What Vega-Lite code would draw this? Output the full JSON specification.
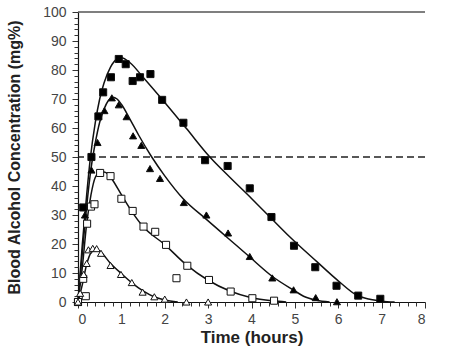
{
  "$schema": "https://vega.github.io/schema/vega-lite/v6.json",
  "width": 347,
  "height": 290,
  "autosize": "none",
  "padding": {"left": 78, "top": 12, "right": 25, "bottom": 55},
  "background": "white",
  "config": {
    "view": {"stroke": null},
    "font": "Liberation Sans",
    "axis": {"grid": false, "domainColor": "#111", "tickColor": "#333", "labelFont": "Liberation Sans", "titleFont": "Liberation Sans"}
  },
  "datasets": {
    "one": [{"k": 1}],
    "pts": [
      {"s":"FS","t":0,"c":0},{"s":"FS","t":0.12,"c":32.6},{"s":"FS","t":0.31,"c":50},{"s":"FS","t":0.47,"c":64},{"s":"FS","t":0.58,"c":72.3},{"s":"FS","t":0.76,"c":77.5},{"s":"FS","t":0.94,"c":83.8},{"s":"FS","t":1.1,"c":82},{"s":"FS","t":1.26,"c":76.2},{"s":"FS","t":1.43,"c":77.5},{"s":"FS","t":1.67,"c":78.6},{"s":"FS","t":1.94,"c":69.7},{"s":"FS","t":2.43,"c":61.8},{"s":"FS","t":2.93,"c":48.9},{"s":"FS","t":3.45,"c":46.9},{"s":"FS","t":3.96,"c":39.2},{"s":"FS","t":4.46,"c":29.3},{"s":"FS","t":4.98,"c":19.4},{"s":"FS","t":5.47,"c":12},{"s":"FS","t":5.96,"c":5.6},{"s":"FS","t":6.46,"c":2.2},{"s":"FS","t":6.97,"c":1.1},
      {"s":"FT","t":0,"c":0},{"s":"FT","t":0.16,"c":30},{"s":"FT","t":0.31,"c":45.5},{"s":"FT","t":0.45,"c":55},{"s":"FT","t":0.61,"c":66},{"s":"FT","t":0.78,"c":70.4},{"s":"FT","t":0.94,"c":68},{"s":"FT","t":1.12,"c":63.9},{"s":"FT","t":1.27,"c":57.3},{"s":"FT","t":1.46,"c":54},{"s":"FT","t":1.66,"c":46},{"s":"FT","t":1.89,"c":42.6},{"s":"FT","t":2.44,"c":34.3},{"s":"FT","t":2.96,"c":30},{"s":"FT","t":3.46,"c":23.8},{"s":"FT","t":3.96,"c":15.7},{"s":"FT","t":4.48,"c":8.3},{"s":"FT","t":4.97,"c":4.2},{"s":"FT","t":5.48,"c":1.5},{"s":"FT","t":5.97,"c":0.1},
      {"s":"OS","t":0,"c":0},{"s":"OS","t":0.12,"c":8},{"s":"OS","t":0.18,"c":2},{"s":"OS","t":0.21,"c":27},{"s":"OS","t":0.3,"c":32.9},{"s":"OS","t":0.38,"c":33.7},{"s":"OS","t":0.51,"c":44.5},{"s":"OS","t":0.75,"c":43.4},{"s":"OS","t":1.0,"c":35.6},{"s":"OS","t":1.26,"c":31.4},{"s":"OS","t":1.51,"c":26},{"s":"OS","t":1.78,"c":24.2},{"s":"OS","t":2.03,"c":19.7},{"s":"OS","t":2.27,"c":8.2},{"s":"OS","t":2.52,"c":12.5},{"s":"OS","t":3.02,"c":7.6},{"s":"OS","t":3.52,"c":3.6},{"s":"OS","t":4.02,"c":1.3},{"s":"OS","t":4.52,"c":0.45},
      {"s":"OT","t":0,"c":0},{"s":"OT","t":0.05,"c":3},{"s":"OT","t":0.13,"c":9.5},{"s":"OT","t":0.2,"c":13.3},{"s":"OT","t":0.24,"c":18},{"s":"OT","t":0.34,"c":18.5},{"s":"OT","t":0.43,"c":18.4},{"s":"OT","t":0.53,"c":16.8},{"s":"OT","t":0.75,"c":12.6},{"s":"OT","t":0.99,"c":9.5},{"s":"OT","t":1.24,"c":6.7},{"s":"OT","t":1.49,"c":3.4},{"s":"OT","t":1.76,"c":1.8},{"s":"OT","t":2.0,"c":1},{"s":"OT","t":2.5,"c":0},{"s":"OT","t":3.0,"c":0}
    ],
    "curves": [
      {"s":"FS","t":0,"c":0},{"s":"FS","t":0.1,"c":20},{"s":"FS","t":0.2,"c":37},{"s":"FS","t":0.28,"c":49},{"s":"FS","t":0.4,"c":62},{"s":"FS","t":0.5,"c":70},{"s":"FS","t":0.6,"c":75.5},{"s":"FS","t":0.75,"c":81},{"s":"FS","t":0.9,"c":83.8},{"s":"FS","t":1.0,"c":84.2},{"s":"FS","t":1.2,"c":82.5},{"s":"FS","t":1.5,"c":77.5},{"s":"FS","t":2.0,"c":68.8},{"s":"FS","t":2.5,"c":59.8},{"s":"FS","t":3.04,"c":50},{"s":"FS","t":3.5,"c":43},{"s":"FS","t":4.0,"c":35.7},{"s":"FS","t":4.42,"c":29.4},{"s":"FS","t":4.88,"c":22.5},{"s":"FS","t":5.5,"c":14},{"s":"FS","t":6.0,"c":7.3},{"s":"FS","t":6.42,"c":2.4},{"s":"FS","t":6.7,"c":1},{"s":"FS","t":7.0,"c":0.3},{"s":"FS","t":7.3,"c":0},
      {"s":"FT","t":0,"c":0},{"s":"FT","t":0.1,"c":17},{"s":"FT","t":0.2,"c":33},{"s":"FT","t":0.3,"c":46},{"s":"FT","t":0.4,"c":55},{"s":"FT","t":0.5,"c":62},{"s":"FT","t":0.6,"c":66.5},{"s":"FT","t":0.7,"c":69.5},{"s":"FT","t":0.8,"c":70.6},{"s":"FT","t":0.9,"c":70},{"s":"FT","t":1.0,"c":68.2},{"s":"FT","t":1.2,"c":63},{"s":"FT","t":1.4,"c":57.5},{"s":"FT","t":1.7,"c":50},{"s":"FT","t":2.0,"c":43.5},{"s":"FT","t":2.43,"c":35.5},{"s":"FT","t":2.96,"c":28.5},{"s":"FT","t":3.46,"c":22},{"s":"FT","t":3.96,"c":15.5},{"s":"FT","t":4.49,"c":8.7},{"s":"FT","t":4.98,"c":4},{"s":"FT","t":5.2,"c":2},{"s":"FT","t":5.5,"c":0.6},{"s":"FT","t":5.8,"c":0},
      {"s":"OS","t":0,"c":0},{"s":"OS","t":0.1,"c":12},{"s":"OS","t":0.2,"c":27},{"s":"OS","t":0.3,"c":37},{"s":"OS","t":0.4,"c":43},{"s":"OS","t":0.5,"c":44.6},{"s":"OS","t":0.6,"c":44.8},{"s":"OS","t":0.7,"c":44},{"s":"OS","t":0.8,"c":42},{"s":"OS","t":1.0,"c":37},{"s":"OS","t":1.25,"c":31},{"s":"OS","t":1.5,"c":26},{"s":"OS","t":2.0,"c":19.8},{"s":"OS","t":2.5,"c":12.8},{"s":"OS","t":3.0,"c":7.5},{"s":"OS","t":3.5,"c":3.8},{"s":"OS","t":4.0,"c":1.5},{"s":"OS","t":4.5,"c":0.4},{"s":"OS","t":4.8,"c":0},
      {"s":"OT","t":0,"c":0},{"s":"OT","t":0.1,"c":6},{"s":"OT","t":0.2,"c":13},{"s":"OT","t":0.3,"c":17},{"s":"OT","t":0.4,"c":18},{"s":"OT","t":0.5,"c":17.5},{"s":"OT","t":0.75,"c":13.3},{"s":"OT","t":1.0,"c":9.8},{"s":"OT","t":1.25,"c":6.5},{"s":"OT","t":1.5,"c":3.8},{"s":"OT","t":1.75,"c":1.8},{"s":"OT","t":2.0,"c":0.7},{"s":"OT","t":2.3,"c":0}
    ]
  },
  "layer": [
    {
      "data": {"name": "one"},
      "mark": {"type": "rule", "color": "#555", "strokeWidth": 1.5},
      "encoding": {"y": {"datum": 100, "type": "quantitative", "scale": {"domain": [0, 100]}, "axis": null}}
    },
    {
      "data": {"name": "one"},
      "mark": {"type": "rule", "color": "#222", "strokeWidth": 1.3, "strokeDash": [7, 4]},
      "encoding": {"y": {"datum": 50, "type": "quantitative", "axis": null}}
    },
    {
      "data": {"name": "curves"},
      "mark": {"type": "line", "color": "#111", "strokeWidth": 1.5, "interpolate": "monotone"},
      "encoding": {
        "x": {"field": "t", "type": "quantitative", "scale": {"domain": [0, 8], "nice": false, "zero": false},
              "axis": {"values": [0,1,2,3,4,5,6,7,8], "title": "Time (hours)", "titleFontSize": 17, "titleFontWeight": "bold", "titleColor": "#222", "titlePadding": 3, "labelFontSize": 14, "labelColor": "#444", "tickSize": 6, "labelPadding": 4, "domainWidth": 1.2}},
        "y": {"field": "c", "type": "quantitative", "scale": {"domain": [0, 100], "nice": false},
              "axis": {"values": [0,10,20,30,40,50,60,70,80,90,100], "title": "Blood Alcohol Concentration (mg%)", "titleFontSize": 16, "titleFontWeight": "bold", "titleColor": "#222", "titlePadding": 20, "labelFontSize": 14, "labelColor": "#444", "tickSize": 6, "labelPadding": 6, "domainWidth": 1.2}},
        "detail": {"field": "s"}
      }
    },
    {
      "data": {"name": "pts"},
      "mark": {"type": "point", "size": 50, "strokeWidth": 1, "opacity": 1, "filled": false},
      "encoding": {
        "x": {"field": "t", "type": "quantitative",
              "axis": {"values": [0.2,0.4,0.6,0.8,1.2,1.4,1.6,1.8,2.2,2.4,2.6,2.8,3.2,3.4,3.6,3.8,4.2,4.4,4.6,4.8,5.2,5.4,5.6,5.8,6.2,6.4,6.6,6.8,7.2,7.4,7.6,7.8], "labels": false, "domain": false, "tickSize": 4, "title": null, "orient": "bottom"}},
        "y": {"field": "c", "type": "quantitative",
              "axis": {"values": [2,4,6,8,12,14,16,18,22,24,26,28,32,34,36,38,42,44,46,48,52,54,56,58,62,64,66,68,72,74,76,78,82,84,86,88,92,94,96,98], "labels": false, "domain": false, "tickSize": 4, "title": null, "orient": "left"}},
        "shape": {"field": "s", "type": "nominal", "scale": {"domain": ["FS","FT","OS","OT"], "range": ["square","triangle-up","square","triangle-up"]}, "legend": null},
        "fill": {"field": "s", "type": "nominal", "scale": {"domain": ["FS","FT","OS","OT"], "range": ["#000","#000","#fff","#fff"]}, "legend": null},
        "stroke": {"value": "#111"}
      }
    }
  ],
  "resolve": {"axis": {"x": "independent", "y": "independent"}}
}
